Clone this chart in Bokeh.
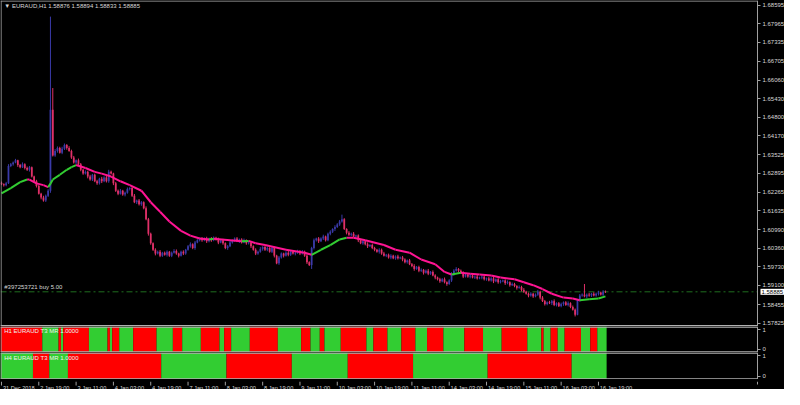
from bokeh.plotting import figure
from bokeh.models import Range1d, FixedTicker, Label, ColumnDataSource, PrintfTickFormatter, Span
from bokeh.layouts import column
from bokeh.embed import file_html
from bokeh.resources import INLINE
from bokeh.core.properties import value

# ---------------- data ----------------
first_open = 1.6258
closes = [
    1.6253, 1.6250, 1.6256, 1.6315, 1.6321, 1.6327, 1.6334, 1.6318, 1.6311, 1.6321,
    1.6308, 1.6302, 1.6311, 1.6279, 1.6263, 1.6247, 1.6221, 1.6208, 1.6198, 1.6214,
    1.6231, 1.6505, 1.6350, 1.6366, 1.6376, 1.6360, 1.6373, 1.6386, 1.6376, 1.6366,
    1.6344, 1.6327, 1.6334, 1.6321, 1.6302, 1.6289, 1.6295, 1.6279, 1.6269, 1.6285,
    1.6263, 1.6256, 1.6272, 1.6263, 1.6276, 1.6263, 1.6295, 1.6289, 1.6256, 1.6231,
    1.6221, 1.6231, 1.6218, 1.6224, 1.6237, 1.6240, 1.6214, 1.6192, 1.6198, 1.6185,
    1.6192, 1.6172, 1.6134, 1.6085, 1.6053, 1.6031, 1.6018, 1.6024, 1.6011, 1.6021,
    1.6014, 1.6024, 1.6011, 1.6021, 1.6027, 1.6018, 1.6011, 1.6024, 1.6018, 1.6031,
    1.6043, 1.6050, 1.6037, 1.6056, 1.6063, 1.6069, 1.6063, 1.6069, 1.6060, 1.6069,
    1.6063, 1.6072, 1.6066, 1.6056, 1.6063, 1.6053, 1.6037, 1.6043, 1.6056, 1.6063,
    1.6069, 1.6060, 1.6066, 1.6056, 1.6063, 1.6053, 1.6056, 1.6043, 1.6031, 1.6018,
    1.6024, 1.6034, 1.6040, 1.6031, 1.6037, 1.6024, 1.6037, 1.6011, 1.5985, 1.6005,
    1.6018, 1.6011, 1.6021, 1.6014, 1.6024, 1.6018, 1.6021, 1.6027, 1.6018, 1.6024,
    1.6011, 1.5989, 1.5979, 1.6037, 1.6063, 1.6069, 1.6060, 1.6069, 1.6076, 1.6063,
    1.6085, 1.6092, 1.6101, 1.6108, 1.6117, 1.6127, 1.6134, 1.6101, 1.6089, 1.6082,
    1.6085, 1.6076, 1.6079, 1.6063, 1.6053, 1.6060, 1.6050, 1.6043, 1.6047, 1.6037,
    1.6031, 1.6024, 1.6031, 1.6018, 1.6011, 1.6014, 1.6005, 1.6011, 1.6002, 1.6008,
    1.6002, 1.6005, 1.5998, 1.5989, 1.5995, 1.5982, 1.5976, 1.5966, 1.5973, 1.5960,
    1.5963, 1.5953, 1.5960, 1.5950, 1.5956, 1.5944, 1.5937, 1.5931, 1.5924, 1.5931,
    1.5921, 1.5915, 1.5927, 1.5947, 1.5960, 1.5966, 1.5960, 1.5953, 1.5940, 1.5947,
    1.5940, 1.5944, 1.5937, 1.5940, 1.5934, 1.5937, 1.5940, 1.5931, 1.5934, 1.5927,
    1.5934, 1.5924, 1.5931, 1.5921, 1.5924, 1.5927, 1.5918, 1.5921, 1.5911, 1.5915,
    1.5908, 1.5902, 1.5905, 1.5895, 1.5889, 1.5882, 1.5876, 1.5882, 1.5873, 1.5879,
    1.5889, 1.5869, 1.5857, 1.5847, 1.5853, 1.5850, 1.5857, 1.5844, 1.5850, 1.5840,
    1.5847, 1.5853, 1.5844, 1.5850, 1.5837, 1.5828, 1.5811, 1.5860, 1.5876, 1.5879,
    1.5873, 1.5879, 1.5876, 1.5882, 1.5876, 1.5882, 1.5886, 1.5879, 1.5889, 1.58885,
]
upper_wick_pips = [
    4, 3, 5, 6, 4, 3, 5, 2, 4, 6, 3, 5, 4, 2, 3, 5, 4, 3, 6, 4,
    5, 316, 74, 6, 5, 4, 7, 5, 3, 6, 4, 5, 3, 6, 4, 3, 5, 4, 6, 3,
    4, 5, 3, 6, 4, 5, 7, 4, 3, 5, 4, 6, 3, 4, 5, 3, 4, 6, 3, 5,
    4, 3, 6, 5, 4, 3, 5, 4, 6, 3, 4, 5, 3, 4, 6, 5, 3, 4, 5, 3,
    4, 6, 3, 5, 4, 3, 5, 4, 6, 3, 5, 4, 3, 6, 4, 5, 3, 4, 6, 3,
    4, 5, 3, 4, 6, 3, 5, 4, 3, 5, 4, 6, 3, 4, 5, 3, 6, 4, 3, 5,
    4, 3, 5, 6, 4, 3, 5, 4, 3, 6, 4, 5, 3, 4, 6, 3, 5, 4, 6, 3,
    4, 5, 3, 6, 4, 5, 16, 4, 3, 5, 4, 6, 3, 4, 5, 3, 4, 6, 3, 5,
    4, 3, 5, 4, 6, 3, 4, 5, 3, 4, 6, 3, 5, 4, 3, 5, 4, 6, 3, 4,
    5, 3, 4, 6, 3, 5, 4, 3, 5, 4, 6, 3, 4, 8, 5, 6, 3, 4, 5, 3,
    4, 5, 3, 4, 6, 3, 5, 4, 3, 5, 4, 6, 3, 4, 5, 3, 4, 6, 3, 5,
    4, 3, 5, 4, 6, 3, 4, 5, 3, 4, 6, 3, 5, 4, 3, 5, 4, 6, 3, 4,
    5, 3, 4, 6, 3, 5, 4, 3, 5, 4, 36, 4, 6, 3, 5, 4, 6, 3, 5, 4,
]
lower_wick_pips = [
    3, 5, 4, 2, 4, 5, 3, 6, 4, 3, 5, 4, 6, 3, 4, 5, 3, 6, 4, 5,
    4, 7, 3, 4, 6, 3, 5, 4, 6, 3, 5, 4, 6, 3, 5, 4, 3, 6, 4, 5,
    3, 5, 4, 6, 3, 4, 5, 3, 6, 4, 5, 3, 4, 6, 3, 5, 4, 3, 6, 4,
    5, 4, 3, 6, 5, 4, 6, 3, 5, 4, 3, 6, 4, 5, 3, 4, 6, 3, 5, 4,
    3, 5, 4, 6, 3, 4, 5, 3, 6, 4, 5, 3, 4, 6, 3, 5, 4, 6, 3, 4,
    5, 3, 6, 4, 3, 5, 4, 6, 3, 5, 4, 3, 6, 4, 5, 3, 4, 6, 3, 5,
    4, 6, 3, 5, 4, 3, 6, 4, 5, 3, 4, 6, 3, 13, 5, 4, 6, 3, 5, 4,
    3, 5, 4, 6, 3, 5, 4, 3, 6, 4, 5, 3, 4, 6, 3, 5, 4, 6, 3, 4,
    5, 3, 6, 4, 3, 5, 4, 6, 3, 5, 4, 3, 6, 4, 5, 3, 4, 6, 3, 5,
    4, 6, 3, 5, 4, 3, 6, 4, 5, 3, 4, 6, 3, 5, 4, 3, 6, 4, 5, 3,
    4, 6, 3, 5, 4, 3, 6, 4, 5, 3, 4, 6, 3, 5, 4, 3, 6, 4, 5, 3,
    4, 6, 3, 5, 4, 3, 6, 4, 5, 3, 4, 6, 3, 5, 4, 3, 6, 4, 5, 3,
    4, 6, 3, 5, 4, 3, 6, 2, 5, 4, 3, 6, 4, 5, 3, 4, 6, 3, 5, 4,
]

ma_index = [0, 4, 8, 11, 12, 15, 18, 20, 21, 22, 25, 28, 30, 32, 36, 40, 43, 47, 51, 55,
            60, 64, 68, 72, 77, 81, 85, 89, 91, 98, 103, 106, 109, 113, 122, 130, 133, 137, 141, 145,
            148, 151, 156, 164, 169, 175, 180, 186, 190, 193, 197, 201, 205, 210, 214, 220, 224, 228, 232, 236,
            241, 245, 248, 252, 256, 259]
ma_values = [1.6222, 1.6240, 1.6260, 1.6269, 1.6269, 1.6256, 1.6250, 1.6243, 1.6255, 1.6269,
             1.6285, 1.6302, 1.6311, 1.6318, 1.6308, 1.6295, 1.6289, 1.6279, 1.6263, 1.6250,
             1.6231, 1.6192, 1.6160, 1.6127, 1.6095, 1.6079, 1.6069, 1.6066, 1.6068, 1.6063,
             1.6060, 1.6061, 1.6053, 1.6047, 1.6031, 1.6021, 1.6014, 1.6031, 1.6047, 1.6066,
             1.6072, 1.6072, 1.6063, 1.6047, 1.6031, 1.6021, 1.5998, 1.5982, 1.5956, 1.5947,
             1.5953, 1.5950, 1.5947, 1.5944, 1.5937, 1.5931, 1.5921, 1.5911, 1.5898, 1.5882,
             1.5869, 1.5866, 1.5860, 1.5863, 1.5866, 1.5873]

h1_colors = ["r", "g", "r", "g", "r", "g", "r", "g", "r", "g", "r", "g", "r", "g", "r", "g", "r", "g", "r", "g",
             "r", "g", "r", "g", "r", "g", "r", "g", "r", "g", "r", "g", "r", "g", "r", "g", "r", "g", "r", "g",
             "r", "g", "r", "g"]
h1_lengths = [18, 7, 1, 1, 11, 8, 1, 1, 3, 6, 10, 7, 4, 8, 8, 2, 3, 8, 12, 10,
              4, 4, 2, 7, 11, 3, 6, 6, 6, 5, 7, 9, 8, 8, 11, 6, 1, 3, 3, 3,
              7, 4, 3, 4]
h4_colors = ["g", "r", "g", "r", "g", "r", "g", "r", "g", "r", "g"]
h4_lengths = [14, 7, 8, 40, 28, 28, 24, 28, 32, 36, 15]

price_ticks = [1.68595, 1.67965, 1.67335, 1.66705, 1.66060, 1.65430, 1.64800, 1.64170, 1.63525,
               1.62895, 1.62265, 1.61635, 1.60990, 1.60360, 1.59730, 1.59100, 1.58455, 1.57825]
time_ticks = [0, 16, 32, 48, 64, 80, 96, 112, 128, 144, 160, 176, 192, 208, 224, 240, 256]
time_labels = ["31 Dec 2018", "2 Jan 19:00", "3 Jan 11:00", "4 Jan 03:00", "4 Jan 19:00", "7 Jan 11:00",
               "8 Jan 03:00", "8 Jan 19:00", "9 Jan 11:00", "10 Jan 03:00", "10 Jan 19:00", "11 Jan 11:00",
               "14 Jan 03:00", "14 Jan 19:00", "15 Jan 11:00", "16 Jan 03:00", "16 Jan 19:00"]
title_text = "\u25bc EURAUD,H1  1.58876 1.58894 1.58833 1.58885"
order_text = "#397253721 buy 5.00"
order_price = 1.58885
last_price = 1.58885
h1_title = "H1 EURAUD  T3 MR 1.0000"
h4_title = "H4 EURAUD  T3 MR 1.0000"

# ---------------- styling ----------------
FONT = "Liberation Sans"
FS = "6px"
FS_T = "5.6px"
TXT = "#d8d8d8"
GRAY = "#a0a0a0"
SEP = "#b0b0b0"
BULL = "#3a3aa8"
BEAR = "#e03068"
MA_UP = "#32CD32"
MA_DN = "#FF1493"
BLK_G = "#32CD32"
BLK_R = "#FF0000"
W = 784
AX_X = 324.2                      # bar-index position of the price scale
XR = Range1d(-0.42, 335.78)

n = min(len(closes), len(upper_wick_pips), len(lower_wick_pips))
closes = closes[:n]
opens = [first_open] + closes[:-1]
xs = list(range(n))
highs = [max(o, c) + u * 1e-4 for o, c, u in zip(opens, closes, upper_wick_pips[:n])]
lows = [min(o, c) - d * 1e-4 for o, c, d in zip(opens, closes, lower_wick_pips[:n])]
cols = [BULL if c > o else BEAR for o, c in zip(opens, closes)]
src = ColumnDataSource(dict(x=xs, o=opens, c=closes, h=highs, l=lows, color=cols,
                            top=[max(o, c) for o, c in zip(opens, closes)],
                            bottom=[min(o, c) for o, c in zip(opens, closes)]))


def base_fig(h, yr, axis=True):
    f = figure(width=W, height=h, x_range=XR, y_range=yr,
               output_backend="svg", toolbar_location=None,
               background_fill_color="black", border_fill_color="black",
               min_border=0, x_axis_location=None,
               y_axis_location="right" if axis else None, outline_line_color=None)
    f.grid.visible = False
    if axis:
        ax = f.yaxis[0]
        ax.fixed_location = AX_X
        ax.axis_line_color = GRAY
        ax.major_tick_line_color = GRAY
        ax.minor_tick_line_color = None
        ax.major_tick_in = 0
        ax.major_tick_out = 3
        ax.major_label_standoff = 2
        ax.major_label_text_font = FONT
        ax.major_label_text_font_size = FS
        ax.major_label_text_color = TXT
        f.add_layout(Span(location=XR.start + 0.25, dimension="height", line_color=GRAY, line_width=1))
    return f


def hline(f, y, width=1.0):
    f.segment(x0=XR.start, y0=y, x1=AX_X, y1=y, line_color=SEP, line_width=width)


# ---- main price panel ----
YR = Range1d(1.5771, 1.68756)
main = base_fig(326, YR)
main.yaxis[0].ticker = FixedTicker(ticks=price_ticks)
main.yaxis[0].formatter = PrintfTickFormatter(format="%.5f")

main.segment(x0=XR.start, y0=order_price, x1=AX_X, y1=order_price, line_color="#1f6e1f",
             line_dash="6 3 2 3", line_width=1)
main.segment(x0="x", y0="l", x1="x", y1="h", line_color="color", line_width=1, source=src)
main.vbar(x="x", top="top", bottom="bottom", width=0.75, fill_color="color", line_color=None, source=src)

seg_x, seg_y, seg_c = [], [], []
for k in range(len(ma_index) - 1):
    seg_x.append([ma_index[k], ma_index[k + 1]])
    seg_y.append([ma_values[k], ma_values[k + 1]])
    seg_c.append(MA_UP if ma_values[k + 1] > ma_values[k] else MA_DN)
main.multi_line(xs=seg_x, ys=seg_y, line_color=seg_c, line_width=2)

hline(main, YR.end - 0.00017, 1.0)
hline(main, YR.start + 0.00025, 1.5)

main.add_layout(Label(x=1.2, y=1.6866, text=title_text, text_font=FONT, text_font_size=FS,
                      text_color=TXT, text_baseline="top"))
main.add_layout(Label(x=1.2, y=order_price, text=order_text, text_font=FONT, text_font_size=FS,
                      text_color=TXT, text_baseline="bottom", y_offset=2))
main.add_layout(Label(x=AX_X, y=last_price, x_offset=3, text="%.5f" % last_price,
                      text_font=FONT, text_font_size=FS, text_color="black", text_baseline="middle",
                      background_fill_color="white", padding=1))


# ---- indicator panels ----
def block_panel(h, colors, lengths, title, bottom_line=False):
    yr = Range1d(-0.16, 1.16)
    f = base_fig(h, yr)
    f.yaxis[0].ticker = FixedTicker(ticks=[0, 1])
    left, right, fc = [], [], []
    start = 0
    for c, ln in zip(colors, lengths):
        left.append(start - 0.5)
        right.append(start + ln - 0.5)
        fc.append(BLK_G if c == "g" else BLK_R)
        start += ln
    f.quad(left=left, right=right, bottom=yr.start, top=yr.end, fill_color=fc, line_color=None)
    hline(f, yr.end - 0.03, 1.5)
    hline(f, yr.start + 0.03, 1.5)
    f.add_layout(Label(x=1.2, y=1.06, text=title, text_font=FONT, text_font_size=FS,
                       text_color="#f0f0f0", text_baseline="top"))
    return f


p1 = block_panel(26, h1_colors, h1_lengths, h1_title)
p2 = block_panel(27, h4_colors, h4_lengths, h4_title)

# ---- time axis strip ----
bt = base_fig(10, Range1d(0, 1), axis=False)
bt.segment(x0=time_ticks, y0=1, x1=time_ticks, y1=0.6, line_color=GRAY, line_width=1)
bt.segment(x0=AX_X, y0=1, x1=AX_X, y1=0.7, line_color=GRAY, line_width=1)
bt.text(x=[t + 0.6 for t in time_ticks], y=0.4, text=time_labels, text_font=value(FONT),
        text_font_size=value(FS_T), text_color=TXT, text_baseline="middle", text_align="left")

layout = column(main, p1, p2, bt, spacing=0, background="black")
open("out.html", "w").write(file_html(layout, INLINE))
